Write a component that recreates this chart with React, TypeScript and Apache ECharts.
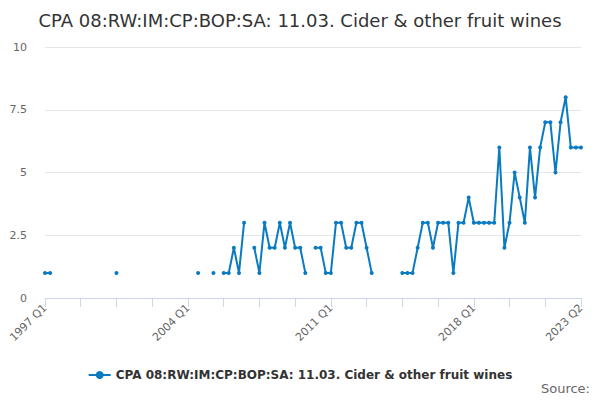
import React, { useEffect, useRef } from "react";
import * as echarts from "echarts";

const TITLE = "CPA 08:RW:IM:CP:BOP:SA: 11.03. Cider & other fruit wines";
const SERIES_NAME = "CPA 08:RW:IM:CP:BOP:SA: 11.03. Cider & other fruit wines";

const START_YEAR = 1997;
const END_YEAR = 2023;
const END_QUARTER = 2;

const categories: string[] = [];
for (let y = START_YEAR; y <= END_YEAR; y++) {
  for (let q = 1; q <= 4; q++) {
    if (y === END_YEAR && q > END_QUARTER) break;
    categories.push(`${y} Q${q}`);
  }
}

const values: (number | null)[] = [
  // 1997
  1, 1, null, null,
  // 1998
  null, null, null, null,
  // 1999
  null, null, null, null,
  // 2000
  null, null, 1, null,
  // 2001
  null, null, null, null,
  // 2002
  null, null, null, null,
  // 2003
  null, null, null, null,
  // 2004
  null, null, 1, null,
  // 2005
  null, 1, null, 1,
  // 2006
  1, 2, 1, 3,
  // 2007
  null, 2, 1, 3,
  // 2008
  2, 2, 3, 2,
  // 2009
  3, 2, 2, 1,
  // 2010
  null, 2, 2, 1,
  // 2011
  1, 3, 3, 2,
  // 2012
  2, 3, 3, 2,
  // 2013
  1, null, null, null,
  // 2014
  null, null, 1, 1,
  // 2015
  1, 2, 3, 3,
  // 2016
  2, 3, 3, 3,
  // 2017
  1, 3, 3, 4,
  // 2018
  3, 3, 3, 3,
  // 2019
  3, 6, 2, 3,
  // 2020
  5, 4, 3, 6,
  // 2021
  4, 6, 7, 7,
  // 2022
  5, 7, 8, 6,
  // 2023
  6, 6,
];

const Y_MIN = 0;
const Y_MAX = 10;
const Y_INTERVAL = 2.5;

const FONT = "DejaVu Sans, sans-serif";
const LINE_COLOR = "#0a7bc0";

export default function App() {
  const ref = useRef<HTMLDivElement>(null);

  useEffect(() => {
    if (!ref.current) return;
    const chart = echarts.init(ref.current, undefined, { renderer: "svg" });
    const last = categories.length - 1;
    chart.setOption({
      animation: false,
      backgroundColor: "#ffffff",
      textStyle: { fontFamily: FONT },
      title: {
        text: TITLE,
        left: "center",
        top: 6,
        textStyle: {
          fontFamily: FONT,
          fontSize: 18,
          fontWeight: "normal",
          color: "#333333",
        },
      },
      legend: {
        bottom: 14,
        left: "center",
        itemWidth: 22,
        itemHeight: 10,
        itemGap: 4,
        textStyle: {
          fontFamily: FONT,
          fontSize: 12,
          fontWeight: "bold",
          color: "#333333",
        },
      },
      grid: {
        left: 45,
        right: 19,
        top: 47,
        bottom: 102,
        containLabel: false,
      },
      xAxis: {
        type: "category",
        data: categories,
        boundaryGap: false,
        axisLine: { show: true, lineStyle: { color: "#ccd6eb", width: 1 } },
        axisTick: {
          show: true,
          length: 9,
          interval: (i: number) => i % 7 === 0,
          lineStyle: { color: "#ccd6eb" },
        },
        axisLabel: {
          interval: (i: number) => i % 28 === 0 || i === last,
          rotate: 45,
          color: "#666666",
          fontSize: 11,
          fontFamily: FONT,
          margin: 8,
        },
        splitLine: { show: false },
      },
      yAxis: {
        type: "value",
        min: Y_MIN,
        max: Y_MAX,
        interval: Y_INTERVAL,
        axisLine: { show: false },
        axisTick: { show: false },
        axisLabel: {
          color: "#666666",
          fontSize: 11,
          fontFamily: FONT,
          margin: 18,
        },
        splitLine: { show: true, lineStyle: { color: "#e6e6e6", width: 1 } },
      },
      series: [
        {
          name: SERIES_NAME,
          type: "line",
          data: values,
          connectNulls: false,
          showSymbol: true,
          showAllSymbol: true,
          symbol: "circle",
          symbolSize: 4,
          itemStyle: { color: LINE_COLOR },
          lineStyle: { color: LINE_COLOR, width: 2 },
        },
      ],
      graphic: [
        {
          type: "text",
          right: 10,
          top: 382,
          style: {
            text: "Source:",
            fontFamily: FONT,
            fontSize: 13,
            fill: "#666666",
          },
        },
      ],
    });
    return () => chart.dispose();
  }, []);

  return (
    <div
      ref={ref}
      style={{ position: "fixed", left: 0, top: 0, width: 600, height: 400 }}
    />
  );
}
